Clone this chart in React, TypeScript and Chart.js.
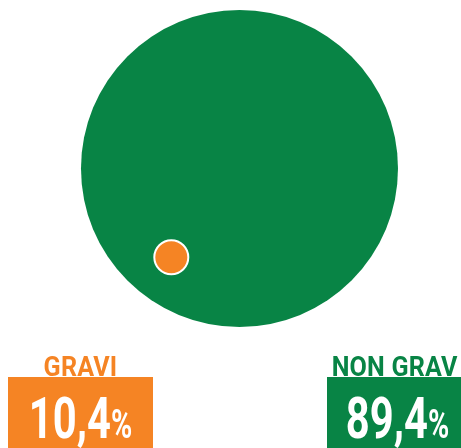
import React, { useEffect, useRef } from "react";
import { Chart, registerables } from "chart.js";

Chart.register(...registerables);

const categories = ["NON GRAV", "GRAVI"];
const shares = [89.4, 10.4];
const shareLabels = ["89,4", "10,4"];
const bubbleX = [51.95, 37.16];
const bubbleY = [62.39, 42.57];
const bubbleR = [158.5, 17];
const colors = ["#088445", "#F58424"];

const W = 461;
const H = 448;

function Label({ idx, left, width }: { idx: number; left: number; width: number }) {
  const color = colors[idx];
  return (
    <>
      <div
        style={{
          position: "absolute",
          left,
          width,
          top: 354,
          textAlign: "center",
          fontFamily: "Roboto, sans-serif",
          fontWeight: 700,
          fontSize: 27,
          lineHeight: "27px",
          color,
          whiteSpace: "nowrap",
          letterSpacing: "0.2px",
          transform: "scaleX(0.93)",
          transformOrigin: "center",
        }}
      >
        {categories[idx]}
      </div>
      <div
        style={{
          position: "absolute",
          left,
          width,
          top: 377,
          height: 71,
          background: color,
        }}
      />
      <div
        style={{
          position: "absolute",
          left,
          width,
          top: 389,
          textAlign: "center",
          fontFamily: "Roboto, sans-serif",
          fontWeight: 700,
          color: "#ffffff",
          whiteSpace: "nowrap",
          lineHeight: "58px",
          transform: "scaleX(0.72)",
          transformOrigin: "center",
        }}
      >
        <span style={{ fontSize: 58 }}>{shareLabels[idx]}</span>
        <span style={{ fontSize: 40 }}>%</span>
      </div>
    </>
  );
}

export default function App() {
  const ref = useRef<HTMLCanvasElement | null>(null);
  useEffect(() => {
    if (!ref.current) return;
    const chart = new Chart(ref.current, {
      type: "bubble",
      data: {
        labels: categories,
        datasets: [
          {
            label: "Quota",
            data: categories.map((_, i) => ({ x: bubbleX[i], y: bubbleY[i], r: bubbleR[i], v: shares[i] })),
            backgroundColor: colors,
            borderColor: ["rgba(0,0,0,0)", "#ffffff"],
            borderWidth: [0, 2],
            hoverRadius: 0,
            clip: false,
          } as any,
        ],
      },
      options: {
        responsive: false,
        animation: false,
        maintainAspectRatio: false,
        layout: { padding: 0, autoPadding: false },
        scales: {
          x: { type: "linear", min: 0, max: 100, display: false },
          y: { type: "linear", min: 0, max: 100, display: false },
        },
        plugins: {
          legend: { display: false },
          tooltip: { enabled: false },
        },
        events: [],
      },
    });
    return () => chart.destroy();
  }, []);

  return (
    <div
      style={{
        position: "fixed",
        left: 0,
        top: 0,
        width: W,
        height: H,
        overflow: "hidden",
        background: "#ffffff",
      }}
    >
      <canvas ref={ref} width={W} height={H} style={{ position: "absolute", left: 0, top: 0, width: W, height: H }} />
      <Label idx={1} left={8} width={145} />
      <Label idx={0} left={327} width={134} />
    </div>
  );
}
